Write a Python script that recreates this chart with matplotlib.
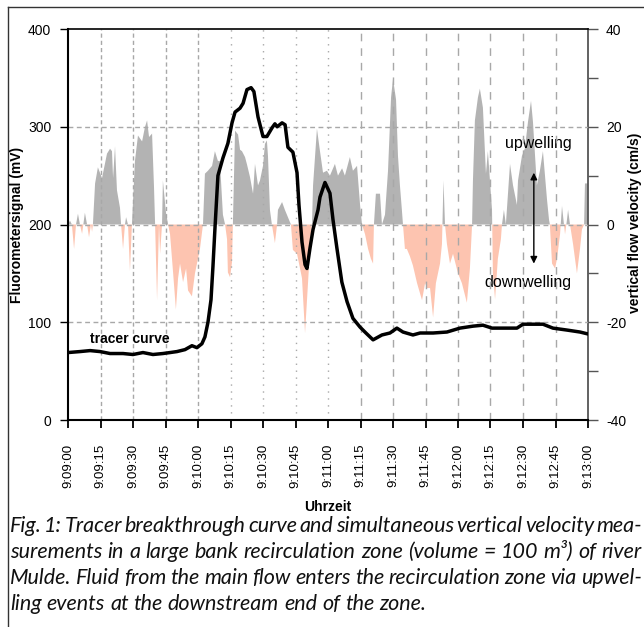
import matplotlib
matplotlib.use("Agg")
import matplotlib.pyplot as plt
import numpy as np
from matplotlib.lines import Line2D

plt.rcParams["font.family"] = ["Liberation Sans", "DejaVu Sans"]

# Tracer (Fluorometer), Zeit in Sekunden ab 9:09:00
t_tracer = [0, 5.5, 10.2, 14.8, 19.4, 25.4, 30, 34.6, 39.2, 43.8, 47.1, 50.3, 54, 57.2,
            59.5, 61.8, 63.2, 64.6, 66, 66.9, 67.8, 69.2, 71.5, 73.8, 75.7, 77.1, 79.4,
            80.8, 82.6, 84.5, 85.8, 87.7, 90, 91.8, 94.2, 95.5, 96.5, 98.8, 100.2, 101.5,
            103.8, 105.7, 106.6, 108, 109.4, 110.3, 111.7, 113.1, 115.4, 116.3, 118.6,
            120.9, 122.3, 124.1, 126.4, 128.8, 131.5, 134.8, 137.5, 140.8, 144.9, 148.6,
            151.8, 154.6, 159.2, 162.5, 168.5, 174.9, 180.9, 186.9, 191.5, 195.7, 202.6,
            207.2, 210, 214.6, 219.2, 223.8, 230.3, 236.3, 240]
tracer_mv = [69, 70, 71, 70, 68, 68, 67, 69, 67, 68, 69, 70, 72, 76,
             74, 78, 85, 100, 123, 157, 195, 250, 268, 283, 304, 315, 319,
             324, 338, 340, 336, 310, 290, 290, 299, 303, 300, 304, 302, 279,
             274, 253, 220, 182, 159, 155, 176, 195, 215, 228, 243,
             232, 205, 176, 141, 121, 104, 95, 89, 82, 87, 89,
             94, 90, 87, 89, 89, 90, 94, 96, 97, 94, 94,
             94, 98, 98, 98, 94, 92, 90, 88]

# vertikale Fliessgeschwindigkeit (cm/s)
t_vel = [0, 0.9, 1.8, 2.8, 3.7, 4.6, 5.5, 6.5, 7.8, 8.8, 9.7, 10.6, 11.1, 11.5, 12.5,
         13.8, 15.7, 18, 19.4, 20.3, 20.8, 21.7, 22.6, 24, 24.5, 25.4, 26.3, 26.8, 27.7,
         28.6, 29.5, 30.9, 32.3, 34.2, 35.5, 36.5, 37.4, 38.8, 39.7, 40.2, 41.1, 42,
         42.5, 43.4, 43.8, 45.2, 46.2, 47.1, 48.5, 49.8, 50.8, 51.7, 53.1, 54.5, 55.4,
         57.2, 58.6, 60.9, 62.3, 63.2, 64.6, 66.5, 67.8, 69.2, 70.1, 71.5, 72.5, 73.4,
         73.8, 74.8, 75.7, 76.1, 77.1, 78.5, 79.4, 80.3, 81.7, 82.6, 84, 85.4, 86.3,
         87.7, 88.6, 90, 90.9, 91.8, 92.3, 93.2, 94.1, 95.5, 96.5, 96.9, 98.8, 100.1,
         101.5, 102.9, 103.8, 105.7, 107.1, 108, 109.4, 110.8, 112.1, 112.6, 113.1, 114,
         114.9, 116.3, 117.7, 119.5, 120.9, 123.2, 124.6, 126.5, 127.8, 130.1, 131.5,
         133.4, 134.8, 135.7, 137.1, 138.5, 139.8, 140.8, 141.2, 142.1, 144, 144.9,
         146.3, 147.7, 149.1, 150, 151.4, 152.3, 153.2, 154.1, 154.6, 155.5, 156.4,
         157.8, 159.2, 161.1, 163.4, 164.8, 165.7, 167.1, 168.5, 169.8, 171.7, 172.6,
         173.3, 174, 174.9, 176.3, 177.7, 180, 181.8, 184.1, 185.5, 186.5, 186.9, 187.8,
         189.2, 190.1, 191.5, 192.9, 193.8, 195.7, 196.1, 197.1, 198.4, 199.8, 200.3,
         201.2, 202.1, 204, 205.4, 207.2, 207.7, 209.5, 210.9, 212.3, 213.7, 214.6,
         216.4, 217.8, 219.2, 221.1, 222, 222.4, 223.4, 224.8, 225.7, 227.1, 228, 228.9,
         229.4, 230.3, 230.8, 231.7, 233.1, 234.9, 236.3, 237.2, 238.2, 238.6, 240]
vel = [0, 0.8, 0, -5, 0, 2.2, 0, -1.9, 2.4, 0, -2.6, 0, -1.5, 0, 8.4,
       11.7, 9.5, 14.5, 15.5, 15, 9.5, 16, 7, 3.4, 0, -5, 0, 1.5, 0,
       -9.5, 0, 13, 18.2, 17, 19.9, 21.3, 17.9, 18.6, 7.6, 0, -15.5, 0,
       -6, 0, 9, 2.5, 0, -2, -9.8, -17.4, -11, -8, -11.8, -9, -13.5,
       -14.7, -10, -5, 0, 10.4, 11, 12, 15, 13, 13, 2, 0, -3,
       -9.8, -10.8, -7.7, 0, 19.2, 18.4, 15.3, 15, 13.8, 12.3, 9.7, 6.3, 12.4,
       8, 9, 12, 16.5, 17.2, 14, 3, 0, -3.8, 0, 3, 4.6, 3,
       1.5, 0, -5.2, -6, -9, -11, -22.2, -11.8, -2, 0, 8, 13.8,
       19.6, 15, 10.6, 11, 10, 12.4, 10, 11.5, 10, 13.8, 11,
       12, 4, 0, -2, -5, -7, -8, 0, 6.3, 6.3, 0,
       2, 11, 26, 29.8, 25.6, 14, 8, 3, 0, -5, -5,
       -6.5, -8.4, -12, -15.5, -12, -13, -13, -19, -12, -8, -4,
       9, 0, -4, -8, -6, -10, -12, -16, -9, 0, 9, 21.3,
       26, 27.8, 23.9, 10.4, 15, 3, -10, -15.3, -7, -3, 0,
       3, 0, 12.4, 8, 4, 9, 14, 15.6, 21, 25.3, 21,
       8, 11, 15, 5, 1, 0, -8, -9, -7, -2, 3.8, 0,
       -2, 1, 3, 0, -4, -10, -5, -1, 0, 8.4, 8.4]

zeit_ticks = list(range(0, 241, 15))
zeit_labels = ["9:09:00", "9:09:15", "9:09:30", "9:09:45", "9:10:00", "9:10:15",
               "9:10:30", "9:10:45", "9:11:00", "9:11:15", "9:11:30", "9:11:45",
               "9:12:00", "9:12:15", "9:12:30", "9:12:45", "9:13:00"]

caption = [
    "Fig. 1: Tracer breakthrough curve and simultaneous vertical velocity mea-",
    "surements in a large bank recirculation zone (volume = 100 m³) of river",
    "Mulde. Fluid from the main flow enters the recirculation zone via upwel-",
    "ling events at the downstream end of the zone.",
]

W, H = 644, 627
fig = plt.figure(figsize=(W / 100, H / 100), dpi=100)
ax = fig.add_axes([68 / W, 1 - 420 / H, 520 / W, 391 / H])
ax2 = ax.twinx()

# Geschwindigkeit als Flaechen: positiv grau, negativ lachsfarben
v = np.array(vel)
ax2.fill_between(t_vel, v, 0, where=v >= 0, interpolate=True, color="#b3b3b3", lw=0)
ax2.fill_between(t_vel, v, 0, where=v <= 0, interpolate=True, color="#fdc4b0", lw=0)
ax2.set_ylim(-40, 40)
ax2.set_yticks(range(-40, 41, 10))
ax2.set_yticklabels([str(x) if x % 20 == 0 else "" for x in range(-40, 41, 10)])
ax2.tick_params(axis="y", direction="out", length=7, width=1, labelsize=10, pad=6,
                color="#555555")
for s in ["left", "top", "bottom"]:
    ax2.spines[s].set_visible(False)
ax2.spines["right"].set_color("#555555")
ax2.spines["right"].set_linewidth(1.3)

# Tracerkurve ueber den Flaechen
ax.set_zorder(ax2.get_zorder() + 1)
ax.patch.set_visible(False)

grid_c = "#a8a8a8"
for y in (100, 200, 300):
    ax.axhline(y, color=grid_c, lw=1, ls=(0, (3.5, 2.5)), zorder=1)
for i, tk in enumerate(zeit_ticks[1:-1]):
    if i < 4:
        ls = (0, (3, 2.2))
    elif i < 8:
        ls = (0, (1, 4))
    else:
        ls = (0, (5.5, 5))
    ax.axvline(tk, color=grid_c, lw=1, ls=ls, zorder=1)

ax.plot(t_tracer, tracer_mv, color="black", lw=2.5, solid_joinstyle="round",
        solid_capstyle="round", zorder=3)

ax.set_xlim(0, 240)
ax.set_ylim(0, 400)
ax.set_yticks([0, 100, 200, 300, 400])
ax.set_xticks(zeit_ticks)
ax.set_xticklabels(zeit_labels, rotation=90, fontsize=9.5)
ax.tick_params(axis="y", direction="out", length=6, width=1, labelsize=10, pad=6)
ax.tick_params(axis="x", direction="out", length=6, width=1.3, pad=11)
ax.spines["right"].set_visible(False)
for s in ["left", "bottom"]:
    ax.spines[s].set_linewidth(1.5)
ax.spines["top"].set_linewidth(1.2)

ax.text(10.2, 83, "tracer curve", fontsize=10, fontweight="bold", va="center")
ax2.text(217, 16.6, "upwelling", fontsize=11.5, ha="center", va="center")
ax2.text(212.3, -11.9, "downwelling", fontsize=11.5, ha="center", va="center")
ax2.annotate("", xy=(215, 10.6), xytext=(215, -8),
             arrowprops=dict(arrowstyle="<|-|>", color="black", lw=1,
                             mutation_scale=10, shrinkA=0, shrinkB=0))

fig.text(17 / W, 1 - 225 / H, "Fluorometersignal (mV)", rotation=90, fontsize=10,
         fontweight="bold", ha="center", va="center")
fig.text(635 / W, 1 - 223 / H, "vertical flow velocity (cm/s)", rotation=90,
         fontsize=10, fontweight="bold", ha="center", va="center")
fig.text(328 / W, 1 - 507 / H, "Uhrzeit", fontsize=10, fontweight="bold",
         ha="center", va="center")

# Rahmen oben und links
fig.add_artist(Line2D([8 / W, 1], [1 - 7 / H, 1 - 7 / H], transform=fig.transFigure,
                      color="#333333", lw=1))
fig.add_artist(Line2D([8 / W, 8 / W], [1 - 7 / H, 0], transform=fig.transFigure,
                      color="#333333", lw=1))

# Bildunterschrift im Blocksatz
renderer = fig.canvas.get_renderer()
cap_kw = dict(family=["Lato", "DejaVu Sans"], style="italic", fontsize=15.5,
              va="baseline", color="#111111")
probe_a = fig.text(0, 0, "x x", **cap_kw)
probe_b = fig.text(0, 0, "xx", **cap_kw)
space_w = probe_a.get_window_extent(renderer).width - probe_b.get_window_extent(renderer).width
probe_a.remove()
probe_b.remove()
x0, x1 = 10, 642
baselines = [532, 558, 584, 610]
for n, (line, yb) in enumerate(zip(caption, baselines)):
    words = line.split(" ")
    texts = [fig.text(0, 0, w, **cap_kw) for w in words]
    widths = [t.get_window_extent(renderer).width for t in texts]
    if n < len(caption) - 1:
        gap = (x1 - x0 - sum(widths)) / (len(words) - 1)
    else:
        gap = space_w
    x = x0
    for t, w in zip(texts, widths):
        t.set_position((x / W, 1 - yb / H))
        x += w + gap

fig.savefig("out.png", dpi=100)
